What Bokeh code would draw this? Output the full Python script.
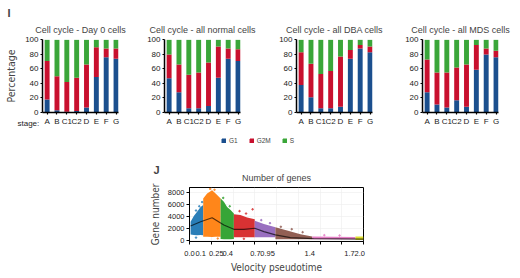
from bokeh.plotting import figure
from bokeh.models import (Range1d, FixedTicker, Legend, LegendItem, Title,
                          ColumnDataSource, Spacer)
from bokeh.layouts import column, row
from bokeh.embed import file_html
from bokeh.resources import INLINE

# ---------------- data ----------------
stages = ["A", "B", "C1", "C2", "D", "E", "F", "G"]
phases = ["G1", "G2M", "S"]

day0_g1 = [18, 3, 1, 2, 7, 49, 76, 74]
day0_g2m = [53, 47, 41, 46, 59, 41, 12, 14]
day0_s = [29, 50, 58, 52, 34, 10, 12, 12]

normal_g1 = [47, 28, 6, 6, 9, 48, 74, 71]
normal_g2m = [33, 38, 46, 49, 60, 43, 14, 16]
normal_s = [20, 34, 48, 45, 31, 9, 12, 13]

dba_g1 = [38, 21, 6, 6, 8, 74, 88, 83]
dba_g2m = [45, 46, 47, 51, 69, 12, 5, 8]
dba_s = [17, 33, 47, 43, 23, 14, 7, 9]

mds_g1 = [28, 11, 7, 17, 8, 59, 80, 76]
mds_g2m = [45, 44, 48, 45, 58, 34, 8, 9]
mds_s = [27, 45, 45, 38, 34, 7, 12, 15]

pct_ticks = [0, 20, 40, 60, 80, 100]

# bottom panel: cell order axis (0..8) with pseudotime labels
order_ticks = [0, 1, 2, 3, 4, 5, 6, 7, 8]
pt_label_pos = [0, 0.51, 1.23, 1.76, 3.03, 3.59, 5.53, 7.36, 7.83]
pt_labels = ["0.0", "0.1", "0.25", "0.4", "0.7", "0.95", "1.4", "1.7", "2.0"]
gene_ticks = [0, 2000, 4000, 6000, 8000]

clusters = [
    dict(color="#1f77b4", x=[0.05, 0.2, 0.35, 0.51, 0.63],
         lo=[1000, 950, 900, 950, 900], hi=[3150, 4080, 4800, 5600, 5900]),
    dict(color="#ff7f0e", x=[0.63, 0.81, 1.04, 1.2, 1.43],
         lo=[650, 650, 600, 650, 650], hi=[7000, 7830, 8380, 7830, 7000]),
    dict(color="#2ca02c", x=[1.43, 1.58, 1.73, 1.89, 2.04],
         lo=[250, 220, 220, 220, 250], hi=[7000, 6450, 5600, 5075, 4520]),
    dict(color="#d62728", x=[2.04, 2.34, 2.65, 3.0],
         lo=[560, 560, 560, 560], hi=[4400, 4250, 3860, 3530]),
    dict(color="#9467bd", x=[3.0, 3.42, 3.95],
         lo=[560, 560, 560], hi=[3310, 2760, 2210]),
    dict(color="#8c564b", x=[3.95, 4.49, 5.1, 5.64],
         lo=[220, 220, 220, 220], hi=[2200, 1660, 1050, 670]),
    dict(color="#e377c2", x=[5.64, 7.63],
         lo=[220, 220], hi=[670, 600]),
    dict(color="#dede22", x=[7.63, 8.0],
         lo=[120, 120], hi=[670, 670]),
]

# sparse cells lying just outside the dense clouds
outlier_x = [0.3, 0.45, 0.58, 0.3, 0.95, 1.15, 1.3, 1.55, 1.85, 2.3, 2.6, 2.9,
             2.5, 3.3, 3.7, 4.2, 4.7, 5.2, 6.2, 6.9]
outlier_y = [5000, 5700, 6400, 500, 8600, 8450, 350, 7100, 5700, 4900, 4500, 5200,
             300, 3400, 2900, 2300, 1900, 1400, 900, 850]
outlier_c = ["#1f77b4"] * 4 + ["#ff7f0e"] * 3 + ["#2ca02c"] * 2 + ["#d62728"] * 4 + \
            ["#9467bd"] * 2 + ["#8c564b"] * 3 + ["#e377c2"] * 2

trend_x = [0.05, 0.51, 1.04, 1.58, 2.04, 2.5, 3.0, 3.42, 3.95, 4.64, 5.7, 8.0]
trend_y = [2430, 3140, 3800, 2600, 1880, 1880, 2050, 1490, 940, 500, 330, 230]

BLUE, RED, GREEN = "#1b4f8e", "#c8102e", "#3aa639"
FONT = "Liberation Sans"
NARROW = "'Liberation Sans Narrow', 'DejaVu Sans Condensed', sans-serif"
TOP_H = 132


def bar_panel(title, g1, g2m, s, width, left, right, first=False):
    xs = list(range(len(stages)))
    src = ColumnDataSource(dict(x=xs, G1=g1, G2M=g2m, S=s))
    p = figure(width=width, height=TOP_H, output_backend="svg", toolbar_location=None,
               title=None,
               x_range=Range1d(-0.47, len(stages) - 1 + 0.25), y_range=Range1d(0, 100.5),
               min_border_left=left, min_border_right=right,
               min_border_top=39, min_border_bottom=20)
    p.vbar_stack(phases, x="x", width=0.5, color=[BLUE, RED, GREEN], source=src,
                 line_color=None)
    p.add_layout(Title(text=title, align="center", text_font=FONT, text_font_size="9px",
                       text_font_style="normal", standoff=8.5), "above")
    p.outline_line_color = None
    p.grid.visible = False
    for ax in (p.xaxis[0], p.yaxis[0]):
        ax.axis_line_width = 1.5
        ax.axis_line_color = "black"
        ax.major_tick_line_width = 1.2
        ax.major_tick_out = 2
        ax.major_tick_in = 0
        ax.minor_tick_out = 0
        ax.minor_tick_in = 0
        ax.major_label_text_font = FONT
        ax.major_label_text_font_size = "8px"
        ax.major_label_text_color = "#222222"
        ax.major_label_standoff = 2
    p.xaxis[0].ticker = FixedTicker(ticks=xs)
    p.xaxis[0].major_label_overrides = {i: s_ for i, s_ in enumerate(stages)}
    p.yaxis[0].ticker = FixedTicker(ticks=pct_ticks)
    if first:
        p.yaxis[0].axis_label = "Percentage"
        p.yaxis[0].axis_label_text_font = NARROW
        p.yaxis[0].axis_label_text_font_size = "10.5px"
        p.yaxis[0].axis_label_text_font_style = "normal"
        p.yaxis[0].axis_label_standoff = 5
        p.add_layout(Title(text="I", align="left", offset=-35, text_font=FONT,
                           text_font_size="11px", text_font_style="bold",
                           standoff=0), "above")
        p.add_layout(Title(text="stage:", align="left", offset=-25, text_font=FONT,
                           text_font_size="8px", text_font_style="normal",
                           text_color="#222222", vertical_align="top",
                           standoff=-19), "below")
    return p


p1 = bar_panel("Cell cycle - Day 0 cells", day0_g1, day0_g2m, day0_s, 130, 42, 12, first=True)
p2 = bar_panel("Cell cycle - all normal cells", normal_g1, normal_g2m, normal_s, 138, 34, 28)
p3 = bar_panel("Cell cycle - all DBA cells", dba_g1, dba_g2m, dba_s, 117, 28, 13)
p4 = bar_panel("Cell cycle - all MDS cells", mds_g1, mds_g2m, mds_s, 135, 37, 22)

# ---------------- legend strip ----------------
pl = figure(width=100, height=16, output_backend="svg", toolbar_location=None,
            title=None, x_range=Range1d(0, 1), y_range=Range1d(0, 1), min_border=0)
pl.axis.visible = False
pl.grid.visible = False
pl.outline_line_color = None
items = []
for name, col in zip(phases, [BLUE, RED, GREEN]):
    # legend proxy, placed outside the visible range of this strip
    r = pl.vbar(x=[5], top=[1], width=0.1, fill_color=col, line_color=col)
    items.append(LegendItem(label=name, renderers=[r]))
leg = Legend(items=items, orientation="horizontal", location="left",
             glyph_width=5, glyph_height=5, label_standoff=3, spacing=11,
             label_width=0,
             label_text_font=FONT, label_text_font_size="6.5px", label_height=8,
             padding=0, margin=0, border_line_color=None, background_fill_alpha=0)
pl.add_layout(leg)
legend_row = row(Spacer(width=221, height=16), pl, spacing=0)

# ---------------- bottom scatter panel ----------------
BOT_H = 129
pb = figure(width=520, height=BOT_H, output_backend="svg", toolbar_location=None,
            title=None, x_range=Range1d(0, 8), y_range=Range1d(-150, 8830),
            min_border_left=189, min_border_right=157, min_border_top=39,
            min_border_bottom=36)
for c in clusters:
    pb.varea(x=c["x"], y1=c["lo"], y2=c["hi"], color=c["color"], alpha=0.95)
pb.scatter(outlier_x, outlier_y, color=outlier_c, size=1.6, alpha=0.7)
pb.line(trend_x, trend_y, line_color="black", line_alpha=0.65, line_width=1.2)
pb.add_layout(Title(text="Number of genes", align="center", text_font=FONT,
                    text_font_size="9px", text_font_style="normal", standoff=10), "above")
pb.add_layout(Title(text="J", align="left", offset=-36, text_font=FONT,
                    text_font_size="11px", text_font_style="bold", standoff=-20), "above")
pb.outline_line_color = "black"
pb.outline_line_width = 1
pb.xgrid.grid_line_color = None
pb.xgrid.minor_grid_line_color = "#ececec"
pb.xgrid.minor_grid_line_width = 0.6
pb.ygrid.grid_line_color = "#ececec"
pb.ygrid.grid_line_width = 0.6

xa = pb.xaxis[0]
xa.ticker = FixedTicker(ticks=pt_label_pos, minor_ticks=order_ticks)
xa.major_label_overrides = {pos: lab for pos, lab in zip(pt_label_pos, pt_labels)}
xa.major_tick_line_color = None
xa.major_tick_out = 0
xa.major_tick_in = 0
xa.minor_tick_out = 3
xa.minor_tick_in = 0
xa.minor_tick_line_color = "black"
xa.minor_tick_line_width = 1
xa.axis_line_color = "black"
xa.major_label_text_font = FONT
xa.major_label_text_font_size = "7.5px"
xa.major_label_text_color = "#222222"
xa.major_label_standoff = 6
xa.axis_label = "Velocity pseudotime"
xa.axis_label_text_font = NARROW
xa.axis_label_text_font_size = "10px"
xa.axis_label_text_font_style = "normal"
xa.axis_label_standoff = 3

ya = pb.yaxis[0]
ya.ticker = FixedTicker(ticks=gene_ticks)
ya.major_tick_out = 3
ya.major_tick_in = 0
ya.minor_tick_out = 0
ya.minor_tick_in = 0
ya.major_label_text_font = FONT
ya.major_label_text_font_size = "7.5px"
ya.major_label_text_color = "#222222"
ya.major_label_standoff = 2
ya.axis_label = "Gene number"
ya.axis_label_text_font = NARROW
ya.axis_label_text_font_size = "10px"
ya.axis_label_text_font_style = "normal"
ya.axis_label_standoff = 4

layout = column(row(p1, p2, p3, p4, spacing=0), legend_row, pb, spacing=0)

with open("out.html", "w") as f:
    f.write(file_html(layout, INLINE))
